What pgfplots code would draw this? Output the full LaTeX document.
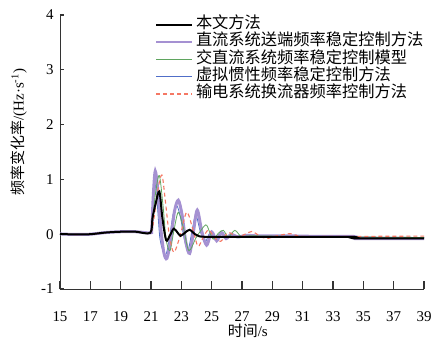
\documentclass[border=0pt]{standalone}
\usepackage{pgfplots}
\pgfplotsset{compat=1.18}
\usepackage{fontspec}
\setmainfont{Liberation Serif}
\newfontfamily\cjk{Noto Sans CJK SC}
\definecolor{cpurple}{RGB}{165,145,210}
\definecolor{cgreen}{RGB}{95,165,95}
\definecolor{cblue}{RGB}{80,110,200}
\definecolor{cred}{RGB}{245,120,100}
\begin{document}
\begin{tikzpicture}
\useasboundingbox (-60bp,-49bp) rectangle (378bp,289bp);
\begin{axis}[
  at={(0,0)}, anchor=south west,
  scale only axis, width=364bp, height=274bp,
  xmin=15, xmax=39, ymin=-1, ymax=4,
  axis x line*=bottom, axis y line*=left,
  axis line style={-, black!80, line width=0.9bp},
  xtick={15,17,...,39}, ytick={-1,0,1,2,3,4},
  xtick align=inside, ytick align=inside,
  xtick pos=bottom, ytick pos=left,
  major tick length=8bp,
  every tick/.style={draw=black!80, line width=1.1bp},
  ytick style={/pgfplots/major tick length=4bp},
  /pgf/number format/assume math mode=true,
  tick label style={font=\fontsize{15}{16}\selectfont},
  xticklabel style={yshift=-19bp},
  yticklabel style={xshift=-3bp},
  xlabel={{\cjk 时间}/s},
  xlabel style={font=\fontsize{15}{16}\selectfont, at={(axis description cs:0.516,-0.152)}, anchor=center},
  ylabel={{\cjk 频率变化率}/(Hz·s\textsuperscript{-1})},
  ylabel style={font=\fontsize{15}{16}\selectfont, at={(axis description cs:-0.113,0.573)}, anchor=center},
  legend style={draw=none, fill=none, inner sep=0pt, outer sep=0pt, at={(axis description cs:0.261,0.996)}, anchor=north west,
    font=\cjk\fontsize{16.3}{17}\selectfont,
    nodes={inner sep=0pt, text height=12.5bp, text depth=4.8bp},
    row sep=0pt, column sep=3bp},
  legend cell align=left,
  legend image code/.code={\draw[#1] (0bp,0bp) -- (36bp,0bp);},
]
\addlegendimage{black, line width=2bp}
\addlegendentry{本文方法}
\addlegendimage{cpurple, line width=2bp}
\addlegendentry{直流系统送端频率稳定控制方法}
\addlegendimage{cgreen, line width=1bp}
\addlegendentry{交直流系统频率稳定控制模型}
\addlegendimage{cblue, line width=1bp}
\addlegendentry{虚拟惯性频率稳定控制方法}
\addlegendimage{cred, line width=1.2bp, dash pattern=on 4bp off 3bp}
\addlegendentry{输电系统换流器频率控制方法}

% blue
\addplot[forget plot, cblue, line width=0.8bp, smooth] coordinates {
(15,0.005)(16,-0.005)(17,0.0)(18,0.03)(19,0.045)(20,0.045)(20.95,0.025)(21.05,0.2)(21.2,1.0)(21.4,0.6)(21.6,-0.1)(21.95,-0.38)(22.2,-0.1)(22.45,0.35)(22.7,0.52)(22.95,0.3)(23.2,-0.1)(23.45,-0.28)(23.7,0.05)(23.95,0.35)(24.25,0.05)(24.55,-0.15)(24.9,0.03)(25.2,-0.08)(25.6,0.02)(26,-0.04)(27,-0.03)(30,-0.04)(34,-0.05)(39,-0.06)};
% purple
\addplot[forget plot, cpurple, line width=3bp, smooth] coordinates {
(15,0.005)(16,-0.005)(17,0.0)(18,0.03)(19,0.045)(20,0.045)(20.95,0.025)(21.05,0.1)(21.15,0.7)(21.28,1.15)(21.45,0.8)(21.65,0.1)(21.85,-0.34)(22.05,-0.44)(22.3,-0.1)(22.55,0.42)(22.8,0.62)(23.05,0.35)(23.3,-0.15)(23.55,-0.35)(23.8,0.05)(24.05,0.44)(24.35,0.05)(24.67,-0.2)(25.0,0.04)(25.33,-0.12)(25.65,0.03)(25.95,-0.08)(26.3,0.0)(26.7,-0.05)(27.3,-0.02)(28,-0.03)(30,-0.03)(32,-0.04)(34.35,-0.04)(34.45,-0.08)(36,-0.08)(39,-0.08)};
% green
\addplot[forget plot, cgreen, line width=0.8bp, smooth] coordinates {
(15,0.005)(16,-0.005)(17,0.0)(18,0.03)(19,0.045)(20,0.045)(20.95,0.025)(21.1,0.25)(21.3,0.75)(21.55,1.07)(21.8,0.5)(22.0,-0.1)(22.25,-0.3)(22.5,0.05)(22.8,0.4)(23.15,0.1)(23.5,-0.3)(24.0,-0.05)(24.6,0.17)(24.85,0.05)(25.1,-0.09)(25.45,0.02)(25.77,0.07)(26.1,-0.05)(26.53,0.07)(26.97,-0.05)(27.5,-0.03)(30,-0.04)(34,-0.05)(39,-0.06)};
% red dashed
\addplot[forget plot, cred, line width=1.1bp, dash pattern=on 4bp off 3bp, smooth] coordinates {
(15,0.005)(16,-0.005)(17,0.0)(18,0.03)(19,0.045)(20,0.045)(20.95,0.025)(21.2,0.3)(21.45,0.8)(21.72,1.08)(21.95,0.6)(22.2,0.0)(22.5,-0.33)(22.9,-0.05)(23.35,0.4)(23.75,0.1)(24.1,-0.22)(24.45,-0.05)(24.8,0.08)(25.15,-0.05)(25.6,-0.13)(26.1,0.03)(26.7,-0.05)(27.2,0.0)(27.65,0.05)(28.1,-0.02)(28.6,-0.08)(29.3,-0.03)(30.2,0.01)(31,-0.04)(34,-0.04)(39,-0.035)};
% black
\addplot[forget plot, black, line width=2bp, smooth] coordinates {
(15,0.005)(16,-0.005)(17,0.0)(18,0.03)(19,0.045)(20,0.045)(20.95,0.025)(21.1,0.3)(21.3,0.55)(21.55,0.78)(21.75,0.3)(22.0,-0.11)(22.25,-0.02)(22.5,0.1)(22.75,0.03)(22.95,-0.03)(23.25,0.03)(23.55,0.08)(23.9,0.0)(24.2,-0.04)(25,-0.05)(27,-0.05)(30,-0.05)(34.35,-0.05)(34.45,-0.075)(39,-0.075)};
\end{axis}
\end{tikzpicture}
\end{document}
